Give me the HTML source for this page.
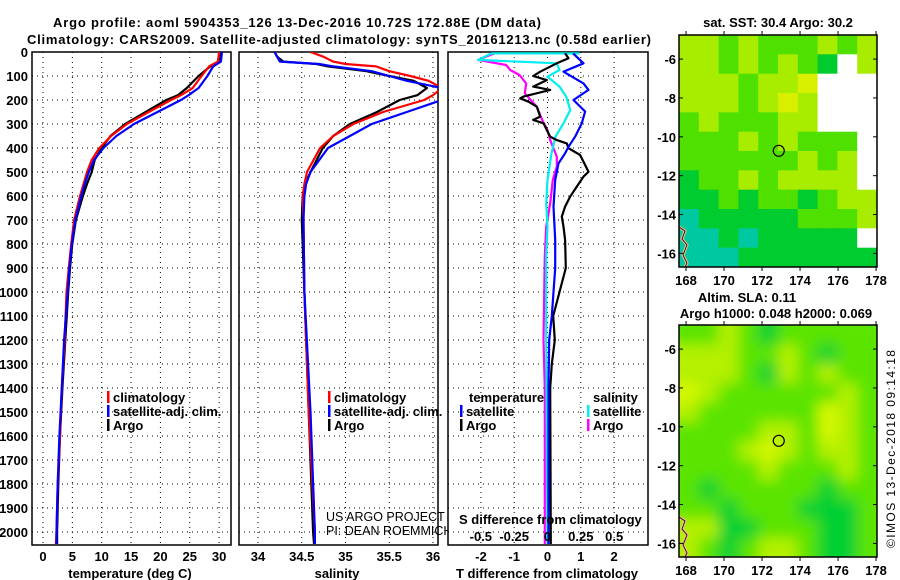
<!DOCTYPE html>
<html><head><meta charset="utf-8"><style>
html,body{margin:0;padding:0;background:#fff;}
svg{display:block;font-family:"Liberation Sans",sans-serif;}
.b{font-weight:bold;font-size:13px;fill:#000;}
</style></head><body>
<svg id="chart" width="900" height="580" viewBox="0 0 900 580" xmlns="http://www.w3.org/2000/svg">
<defs>
<clipPath id="c1"><rect x="32" y="52" width="199" height="493"/></clipPath>
<clipPath id="c2"><rect x="239" y="52" width="199" height="493"/></clipPath>
<clipPath id="c3"><rect x="448" y="52" width="200" height="493"/></clipPath>
<clipPath id="cm1"><rect x="679" y="35" width="198" height="232"/></clipPath>
<clipPath id="cm2"><rect x="679" y="325" width="198" height="232"/></clipPath>
<filter id="blur" x="-10%" y="-10%" width="120%" height="120%"><feGaussianBlur stdDeviation="7"/></filter>
</defs>
<text class="b" x="297" y="27" text-anchor="middle" font-size="14.5" textLength="488">Argo profile: aoml 5904353_126 13-Dec-2016 10.72S 172.88E (DM data)</text>
<text class="b" x="339" y="44" text-anchor="middle" font-size="14.5" textLength="624">Climatology: CARS2009. Satellite-adjusted climatology: synTS_20161213.nc (0.58d earlier)</text>
<g id="g1"></g><g id="g2"></g><g id="g3"></g><g id="gm1"></g><g id="gm2"></g>
</svg>
<script>
// ---------- data ----------
const depthTicks=[0,100,200,300,400,500,600,700,800,900,1000,1100,1200,1300,1400,1500,1600,1700,1800,1900,2000];
const tTicks=[0,5,10,15,20,25,30];
const sTicks=[34,34.5,35,35.5,36];
const dTTicks=[-2,-1,0,1,2];
const dSTicks=[-0.5,-0.25,0,0.25,0.5];
const tDepth=[0,40,60,100,150,180,200,250,300,350,400,450,500,550,600,700,800,900,1000,1200,1400,1600,1800,2000,2050];
const tArgo=[30.2,30.0,28.5,26.5,24.5,23.0,21.0,17.5,14.0,11.5,10.0,8.8,8.3,7.5,6.8,5.6,5.0,4.6,4.3,3.8,3.3,2.9,2.6,2.4,2.4];
const tClim=[30.0,29.8,28.3,27.0,25.5,23.5,21.8,18.0,14.3,11.6,9.6,8.3,7.5,6.9,6.3,5.3,4.8,4.4,4.0,3.7,3.2,2.9,2.5,2.3,2.2];
const tSat=[30.5,30.3,29.0,28.0,26.5,24.8,23.5,19.5,15.5,12.5,10.3,8.7,7.8,7.1,6.5,5.5,4.9,4.5,4.2,3.6,3.2,2.8,2.5,2.3,2.3];
const sDepth=[0,20,40,50,60,80,100,120,150,180,200,250,300,350,400,500,550,600,700,1000,1500,2000,2050];
const sArgo=[34.19,34.22,34.29,34.67,34.8,35.24,35.5,35.78,35.93,35.82,35.62,35.36,35.05,34.86,34.74,34.6,34.54,34.51,34.5,34.53,34.58,34.63,34.64];
const sClim=[34.6,34.75,34.86,35.0,35.35,35.5,35.74,35.95,36.1,36.0,35.9,35.43,35.09,34.86,34.71,34.56,34.53,34.51,34.52,34.53,34.58,34.65,34.65];
const sSat=[34.19,34.22,34.25,34.7,34.86,35.3,35.5,35.7,36.1,36.15,36.1,35.7,35.3,35.05,34.8,34.6,34.55,34.53,34.52,34.53,34.6,34.65,34.65];
const dTArgoDepth=[6,26,47,82,100,117,144,158,186,193,207,228,269,283,297,325,353,367,381,401,429,457,499,519,561,603,644,686,728,783,900,1000,1100,1200,1300,1400,2050];
const dTArgo=[0.53,0.63,0.28,-0.22,-0.43,-0.02,-0.43,0.08,-0.72,-0.82,-0.57,-0.32,-0.22,-0.43,-0.12,-0.02,0.08,0.28,0.58,0.63,0.98,1.08,1.23,1.08,0.88,0.68,0.53,0.43,0.48,0.53,0.55,0.36,0.17,0.22,0.13,0.08,0.1];
const dTSatDepth=[6,47,82,131,158,200,248,297,353,395,422,464,533,644,783,900,1000,1100,1200,1400,2050];
const dTSat=[0.77,1.08,0.48,1.08,1.23,0.78,1.13,1.03,0.83,0.63,0.53,0.33,0.23,0.18,0.23,0.23,0.18,0.13,0.05,0.03,0.03];
const dSDepth=[6,6,33,47,75,103,144,186,242,297,353,422,533,630,728,850,1200,2050];
const dSSat=[0.24,-0.42,-0.52,0.07,0.09,0.0,0.09,0.14,0.17,0.12,0.06,0.03,0.0,-0.01,0.0,-0.01,-0.01,0.0];
const dSArgoDepth=[6,33,54,75,96,131,172,228,283,325,367,436,478,533,630,728,850,1200,1400,2050];
const dSArgo=[-0.4,-0.52,-0.31,-0.28,-0.21,-0.16,-0.17,-0.08,-0.04,0.0,0.02,0.07,0.07,0.04,0.02,-0.01,-0.02,-0.03,-0.02,-0.02];
const latTicks=[-6,-8,-10,-12,-14,-16];
const lonTicks=[168,170,172,174,176,178];
const argoLon=172.88, argoLat=-10.72;
const sstGrid=["yygygggygy","yygygygGwy","yyygyyYwww","yyygyYywww","gygggyywww","gggygygggw","ggggggygyw","GggygyyyyW","GGgGggGgyy","cGGGGGgggy","ccGcGGGGGw","cccGGGGGGG"];
const slaGrid=["ggygGggggg","yyyggygGgg","yyygGygygg","Yyggggggyg","yggggggYyg","ggggyygYyg","gggyYygyyg","ggggygggyg","gGgggggGgg","ggGgggGGGg","yyGGgggGGg","ygGgyygGGg"];

// ---------- helpers ----------
const NS="http://www.w3.org/2000/svg";
function mk(parent,tag,attrs,txt){const e=document.createElementNS(NS,tag);for(const k in attrs)e.setAttribute(k,attrs[k]);if(txt!==undefined)e.textContent=txt;parent.appendChild(e);return e;}
const Y0=52,YS=0.24;
const yD=d=>Y0+d*YS;
const xT=t=>43+t*5.87;
const xS=s=>258+(s-34)*87.5;
const xDT=t=>547.5+t*33.3;
const xDS=s=>547.5+s*133.3;
function pts(xs,ds,fx){return xs.map((v,i)=>fx(v).toFixed(1)+","+yD(ds[i]).toFixed(1)).join(" ");}

function panel(g,x0,w,clip,xticks,fx,xfmt,ytickLabels){
  mk(g,"rect",{x:x0,y:52,width:w,height:493,fill:"#fff",stroke:"#000","stroke-width":1.5});
  depthTicks.forEach(d=>{
    const l=mk(g,"line",{x1:x0,x2:x0+w,y1:yD(d),y2:yD(d),stroke:"#000","stroke-width":1,"stroke-dasharray":"1,4"});
    
    
    if(ytickLabels){
      const t=mk(g,"text",{x:28,y:yD(d)+5,"text-anchor":"end",class:"b"},String(d));
      
      
    }
  });
  xticks.forEach(v=>{
    const l=mk(g,"line",{x1:fx(v),x2:fx(v),y1:52,y2:545,stroke:"#000","stroke-width":1,"stroke-dasharray":"1,4"});
    
    
  });
}
function line(g,clip,xs,ds,fx,color,name){
  const p=mk(g,"polyline",{points:pts(xs,ds,fx),fill:"none",stroke:color,"stroke-width":2.2,"clip-path":"url(#"+clip+")","stroke-linejoin":"round"});
  
  
}
function txt(g,x,y,s,anchor,name,cls,extra){
  const t=mk(g,"text",Object.assign({x:x,y:y,"text-anchor":anchor||"start",class:cls===undefined?"b":cls},extra||{}),s);
  
  
  return t;
}
function legend(g,x,y,color,label,name){
  const r=mk(g,"rect",{x:x,y:y-11,width:2.5,height:12,fill:color});
  
  
  txt(g,x+6,y,label,"start",name);
}

// ---------- panel 1: temperature ----------
const g1=document.getElementById("g1");


panel(g1,32,199,"c1",tTicks,xT,null,true);
line(g1,"c1",tArgo,tDepth,xT,"#000","temperature-argo-line");
line(g1,"c1",tClim,tDepth,xT,"#f00","temperature-climatology-line");
line(g1,"c1",tSat,tDepth,xT,"#00f","temperature-satellite-line");
tTicks.forEach(v=>txt(g1,xT(v),561,String(v),"middle","temperature-tick-label"));
txt(g1,130,578,"temperature (deg C)","middle","temperature-axis-title");
legend(g1,107,402,"#f00","climatology","legend-climatology");
legend(g1,107,416,"#00f","satellite-adj. clim.","legend-satellite-adj");
legend(g1,107,430,"#000","Argo","legend-argo");

// ---------- panel 2: salinity ----------
const g2=document.getElementById("g2");


panel(g2,239,199,"c2",sTicks,xS,null,false);
line(g2,"c2",sArgo,sDepth,xS,"#000","salinity-argo-line");
line(g2,"c2",sClim,sDepth,xS,"#f00","salinity-climatology-line");
line(g2,"c2",sSat,sDepth,xS,"#00f","salinity-satellite-line");
sTicks.forEach(v=>txt(g2,xS(v),561,String(v),"middle","salinity-tick-label"));
txt(g2,337,578,"salinity","middle","salinity-axis-title");
legend(g2,328,402,"#f00","climatology","legend-climatology-s");
legend(g2,328,416,"#00f","satellite-adj. clim.","legend-satellite-adj-s");
legend(g2,328,430,"#000","Argo","legend-argo-s");
txt(g2,326,521,"US ARGO PROJECT","start","credit-project","",{"font-size":"12.5",fill:"#000"});
txt(g2,326,535,"PI: DEAN ROEMMICH","start","credit-pi","",{"font-size":"12.5",fill:"#000"});

// ---------- panel 3: differences ----------
const g3=document.getElementById("g3");


panel(g3,448,200,"c3",dTTicks,xDT,null,false);
line(g3,"c3",dSArgo,dSArgoDepth,xDS,"#f0f","s-diff-argo-line");
line(g3,"c3",dSSat,dSDepth,xDS,"#0ee","s-diff-satellite-line");
line(g3,"c3",dTArgo,dTArgoDepth,xDT,"#000","t-diff-argo-line");
line(g3,"c3",dTSat,dTSatDepth,xDT,"#00f","t-diff-satellite-line");
txt(g3,469,402,"temperature","start","legend-temperature-heading");
legend(g3,460,416,"#00f","satellite","legend-t-satellite");
legend(g3,460,430,"#000","Argo","legend-t-argo");
txt(g3,593,402,"salinity","start","legend-salinity-heading");
legend(g3,587,416,"#0ee","satellite","legend-s-satellite");
legend(g3,587,430,"#f0f","Argo","legend-s-argo");
txt(g3,459,524,"S difference from climatology","start","s-diff-axis-title");
dSTicks.forEach(v=>txt(g3,xDS(v),541,String(v),"middle","s-diff-tick-label"));
dTTicks.forEach(v=>txt(g3,xDT(v),561,String(v),"middle","t-diff-tick-label"));
txt(g3,547,578,"T difference from climatology","middle","t-diff-axis-title");

// ---------- maps ----------
const cols={y:"#a8ec00",Y:"#d8f000",g:"#50e000",G:"#00cc30",c:"#00c8a0",w:"#ffffff",W:"#ffffff"};
const cols2={y:"#b4f000",Y:"#d4f800",g:"#5ae400",G:"#00d030",c:"#00c8a0",w:"#fff",W:"#fff"};
function mapPanel(gid,top,grid,palette,clip,blur,title1,title2){
  const g=document.getElementById(gid);
  
  
  const L=679,W=198,H=232;
  const lonL=167.63,lonR=178.05,latT=-4.76,latB=-16.7;
  const fx=lo=>L+(lo-lonL)/(lonR-lonL)*W;
  const fy=la=>top+(latT-la)/(latT-latB)*H;
  const inner=mk(g,"g",{"clip-path":"url(#"+clip+")"});
  const cells=mk(inner,"g",blur?{filter:"url(#blur)"}:{});
  const nr=grid.length,nc=grid[0].length,cw=W/nc,ch=H/nr;
  grid.forEach((row,r)=>{row.split("").forEach((k,c)=>{
    const e=mk(cells,"rect",{x:(L+c*cw-(blur?12*(c===0):0)).toFixed(1),y:(top+r*ch-(blur?12*(r===0):0)).toFixed(1),width:(cw+0.6+(blur?12*(c===0||c===nc-1):0)).toFixed(1),height:(ch+0.6+(blur?12*(r===0||r===nr-1):0)).toFixed(1),fill:palette[k]});
    
    
  });});
  mk(inner,"path",{d:`M${L} ${top+H-40} l6 4 l-3 8 l5 6 l-4 10 l4 8 l-3 6`,fill:"none",stroke:"#f4b890","stroke-width":3});
  mk(inner,"path",{d:`M${L} ${top+H-40} l6 4 l-3 8 l5 6 l-4 10 l4 8 l-3 6`,fill:"none",stroke:"#000","stroke-width":0.8});
  mk(g,"rect",{x:L,y:top,width:W,height:H,fill:"none",stroke:"#000","stroke-width":1.5});
  const m=mk(g,"circle",{cx:fx(argoLon),cy:fy(argoLat),r:5.5,fill:"none",stroke:"#000","stroke-width":1.2});
  
  
  latTicks.forEach(v=>{
    mk(g,"line",{x1:L+W,x2:L+W-4,y1:fy(v),y2:fy(v),stroke:"#000"});
    mk(g,"line",{x1:L,x2:L+4,y1:fy(v),y2:fy(v),stroke:"#000"});
    txt(g,L-3,fy(v)+5,String(v),"end","lat-tick-label");
  });
  lonTicks.forEach(v=>{
    mk(g,"line",{x1:fx(v),x2:fx(v),y1:top,y2:top-4,stroke:"#000"});
    mk(g,"line",{x1:fx(v),x2:fx(v),y1:top+H,y2:top+H+4,stroke:"#000"});
    txt(g,fx(v),top+H+18,String(v),"middle","lon-tick-label");
  });
  if(title1) txt(g,title1[1],title1[2],title1[0],"middle","map-title",undefined,{"font-size":"12"});
  if(title2) txt(g,title2[1],title2[2],title2[0],"middle","map-subtitle",undefined,{"font-size":"12"});
}
mapPanel("gm1",35,sstGrid,cols,"cm1",false,["sat. SST: 30.4 Argo: 30.2",778,27],null);
mapPanel("gm2",325,slaGrid,cols2,"cm2",true,["Altim. SLA: 0.11",747,302],["Argo h1000: 0.048 h2000: 0.069",776,318]);
const cr=txt(document.getElementById("chart"),0,0,"©IMOS 13-Dec-2018 09:14:18","start","copyright-timestamp","",{"font-size":"12",fill:"#000",transform:"translate(895,548) rotate(-90)",textLength:"198"});
</script>
</body></html>
